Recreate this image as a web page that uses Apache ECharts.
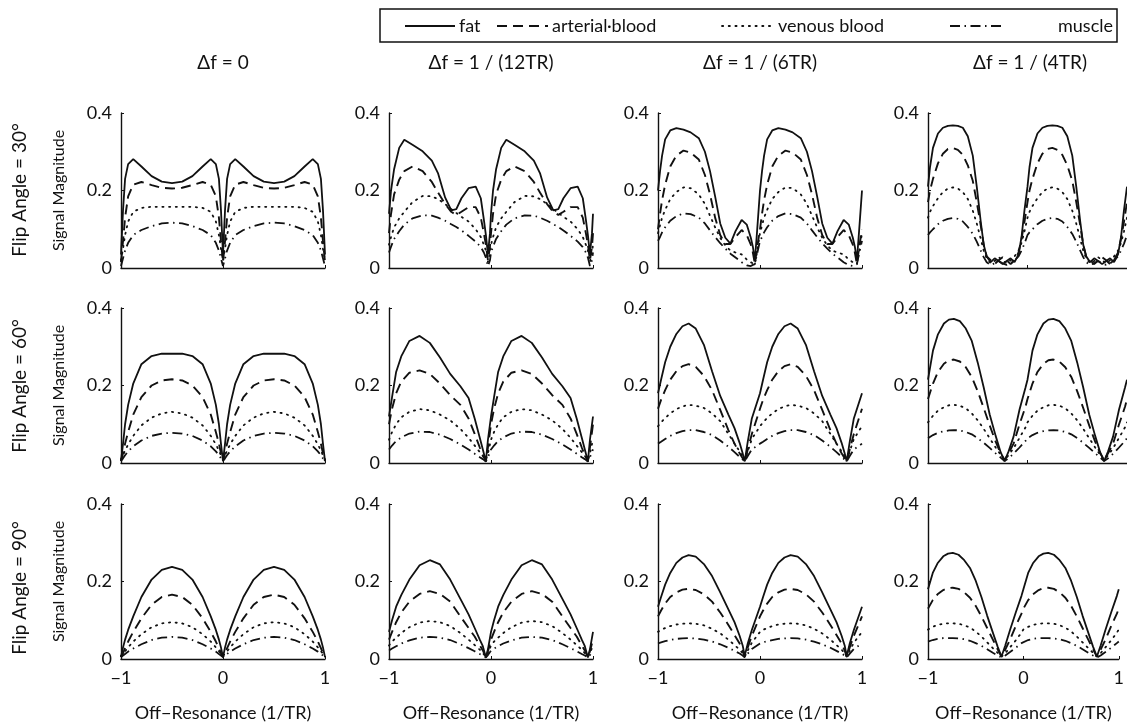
<!DOCTYPE html>
<html><head><meta charset="utf-8">
<script src="https://cdn.jsdelivr.net/npm/echarts/dist/echarts.min.js"></script>
<style>html,body{margin:0;padding:0;background:#fff}#c{width:1127px;height:724px}</style>
</head><body><div id="c"></div>
<script>
// ---------------- text ----------------
const seriesNames = ['fat', 'arterial·blood', 'venous blood', 'muscle'];
const colTitles = ['Δf = 0', 'Δf = 1 / (12TR)', 'Δf = 1 / (6TR)', 'Δf = 1 / (4TR)'];
const rowTitles = ['Flip Angle = 30°', 'Flip Angle = 60°', 'Flip Angle = 90°'];
const yName = 'Signal Magnitude';
const xName = 'Off\u2212Resonance (1/TR)';
const yTicks = [0, 0.2, 0.4];
const xTicks = [-1, 0, 1];

// ---------------- data: column 1 (Δf = 0) ----------------
const x_c1 = [-1,-0.98,-0.96,-0.93,-0.88,-0.8,-0.7,-0.6,-0.5,-0.4,-0.3,-0.2,-0.12,-0.07,-0.04,-0.02,0,
  0.02,0.04,0.07,0.12,0.2,0.3,0.4,0.5,0.6,0.7,0.8,0.88,0.93,0.96,0.98,1];
// 30°
const fat_r1c1 = [0.035,0.15,0.23,0.268,0.281,0.262,0.237,0.223,0.219,0.223,0.237,0.262,0.281,0.268,0.23,0.15,0.035,
  0.15,0.23,0.268,0.281,0.262,0.237,0.223,0.219,0.223,0.237,0.262,0.281,0.268,0.23,0.15,0.035];
const art_r1c1 = [0.015,0.07,0.13,0.185,0.215,0.222,0.214,0.207,0.205,0.207,0.214,0.222,0.215,0.185,0.13,0.07,0.015,
  0.07,0.13,0.185,0.215,0.222,0.214,0.207,0.205,0.207,0.214,0.222,0.215,0.185,0.13,0.07,0.015];
const ven_r1c1 = [0.02,0.05,0.085,0.12,0.145,0.155,0.158,0.158,0.158,0.158,0.158,0.155,0.145,0.12,0.085,0.05,0.02,
  0.05,0.085,0.12,0.145,0.155,0.158,0.158,0.158,0.158,0.158,0.155,0.145,0.12,0.085,0.05,0.02];
const mus_r1c1 = [0.005,0.025,0.045,0.065,0.085,0.098,0.108,0.115,0.117,0.115,0.108,0.098,0.085,0.065,0.045,0.025,0.005,
  0.025,0.045,0.065,0.085,0.098,0.108,0.115,0.117,0.115,0.108,0.098,0.085,0.065,0.045,0.025,0.005];
// 60°
const fat_r2c1 = [0.005,0.05,0.1,0.15,0.205,0.255,0.276,0.282,0.282,0.282,0.276,0.255,0.205,0.15,0.1,0.05,0.005,
  0.05,0.1,0.15,0.205,0.255,0.276,0.282,0.282,0.282,0.276,0.255,0.205,0.15,0.1,0.05,0.005];
const art_r2c1 = [0.005,0.025,0.05,0.08,0.125,0.17,0.2,0.213,0.216,0.213,0.2,0.17,0.125,0.08,0.05,0.025,0.005,
  0.025,0.05,0.08,0.125,0.17,0.2,0.213,0.216,0.213,0.2,0.17,0.125,0.08,0.05,0.025,0.005];
const ven_r2c1 = [0.01,0.02,0.032,0.048,0.07,0.097,0.117,0.128,0.132,0.128,0.117,0.097,0.07,0.048,0.032,0.02,0.01,
  0.02,0.032,0.048,0.07,0.097,0.117,0.128,0.132,0.128,0.117,0.097,0.07,0.048,0.032,0.02,0.01];
const mus_r2c1 = [0.005,0.012,0.02,0.03,0.043,0.058,0.07,0.076,0.078,0.076,0.07,0.058,0.043,0.03,0.02,0.012,0.005,
  0.012,0.02,0.03,0.043,0.058,0.07,0.076,0.078,0.076,0.07,0.058,0.043,0.03,0.02,0.012,0.005];
// 90°
const fat_r3c1 = [0.005,0.03,0.05,0.075,0.11,0.16,0.205,0.23,0.238,0.23,0.205,0.16,0.11,0.075,0.05,0.03,0.005,
  0.03,0.05,0.075,0.11,0.16,0.205,0.23,0.238,0.23,0.205,0.16,0.11,0.075,0.05,0.03,0.005];
const art_r3c1 = [0.005,0.015,0.028,0.045,0.07,0.105,0.14,0.16,0.166,0.16,0.14,0.105,0.07,0.045,0.028,0.015,0.005,
  0.015,0.028,0.045,0.07,0.105,0.14,0.16,0.166,0.16,0.14,0.105,0.07,0.045,0.028,0.015,0.005];
const ven_r3c1 = [0.008,0.014,0.02,0.03,0.045,0.064,0.082,0.092,0.095,0.092,0.082,0.064,0.045,0.03,0.02,0.014,0.008,
  0.014,0.02,0.03,0.045,0.064,0.082,0.092,0.095,0.092,0.082,0.064,0.045,0.03,0.02,0.014,0.008];
const mus_r3c1 = [0.005,0.009,0.013,0.019,0.027,0.038,0.049,0.055,0.057,0.055,0.049,0.038,0.027,0.019,0.013,0.009,0.005,
  0.009,0.013,0.019,0.027,0.038,0.049,0.055,0.057,0.055,0.049,0.038,0.027,0.019,0.013,0.009,0.005];

// ---------------- data: column 2 (Δf = 1/(12TR)) ----------------
const x_r1c2 = [-1,-0.98,-0.95,-0.9,-0.85,-0.77,-0.67,-0.58,-0.52,-0.45,-0.39,-0.34,-0.29,-0.22,-0.15,-0.1,-0.07,-0.05,-0.03,-0.01,0,
  0.02,0.05,0.1,0.15,0.23,0.33,0.42,0.48,0.55,0.61,0.66,0.71,0.78,0.85,0.9,0.93,0.95,0.97,0.99,1];
const fat_r1c2 = [0.14,0.2,0.255,0.31,0.331,0.318,0.301,0.277,0.245,0.182,0.149,0.152,0.18,0.206,0.21,0.18,0.125,0.085,0.035,0.09,0.14,
  0.2,0.255,0.31,0.331,0.318,0.301,0.277,0.245,0.182,0.149,0.152,0.18,0.206,0.21,0.18,0.125,0.085,0.035,0.09,0.14];
const art_r1c2 = [0.09,0.14,0.19,0.228,0.25,0.262,0.25,0.222,0.195,0.165,0.145,0.137,0.145,0.157,0.157,0.13,0.09,0.06,0.02,0.055,0.09,
  0.14,0.19,0.228,0.25,0.262,0.25,0.222,0.195,0.165,0.145,0.137,0.145,0.157,0.157,0.13,0.09,0.06,0.02,0.055,0.09];
const ven_r1c2 = [0.06,0.08,0.105,0.128,0.145,0.17,0.186,0.185,0.178,0.165,0.152,0.142,0.132,0.12,0.1,0.08,0.06,0.045,0.015,0.04,0.06,
  0.08,0.105,0.128,0.145,0.17,0.186,0.185,0.178,0.165,0.152,0.142,0.132,0.12,0.1,0.08,0.06,0.045,0.015,0.04,0.06];
const mus_r1c2 = [0.04,0.055,0.075,0.095,0.112,0.128,0.136,0.135,0.13,0.122,0.113,0.106,0.097,0.083,0.068,0.054,0.04,0.027,0.005,0.02,0.04,
  0.055,0.075,0.095,0.112,0.128,0.136,0.135,0.13,0.122,0.113,0.106,0.097,0.083,0.068,0.054,0.04,0.027,0.005,0.02,0.04];
const x_c2 = [-1,-0.97,-0.93,-0.88,-0.8,-0.7,-0.6,-0.5,-0.4,-0.3,-0.22,-0.16,-0.11,-0.08,-0.05,-0.03,0,
  0.03,0.07,0.12,0.2,0.3,0.4,0.5,0.6,0.7,0.78,0.84,0.89,0.92,0.95,0.97,1];
const fat_r2c2 = [0.12,0.17,0.235,0.275,0.315,0.328,0.31,0.272,0.23,0.198,0.168,0.115,0.065,0.035,0.004,0.06,0.12,
  0.17,0.235,0.275,0.315,0.328,0.31,0.272,0.23,0.198,0.168,0.115,0.065,0.035,0.004,0.06,0.12];
const art_r2c2 = [0.1,0.14,0.18,0.21,0.233,0.239,0.23,0.205,0.175,0.15,0.115,0.075,0.04,0.02,0.004,0.04,0.1,
  0.14,0.18,0.21,0.233,0.239,0.23,0.205,0.175,0.15,0.115,0.075,0.04,0.02,0.004,0.04,0.1];
const ven_r2c2 = [0.06,0.08,0.1,0.118,0.132,0.139,0.136,0.125,0.11,0.088,0.065,0.045,0.028,0.018,0.008,0.025,0.06,
  0.08,0.1,0.118,0.132,0.139,0.136,0.125,0.11,0.088,0.065,0.045,0.028,0.018,0.008,0.025,0.06];
const mus_r2c2 = [0.035,0.045,0.057,0.066,0.076,0.081,0.08,0.073,0.062,0.048,0.035,0.024,0.015,0.01,0.004,0.015,0.035,
  0.045,0.057,0.066,0.076,0.081,0.08,0.073,0.062,0.048,0.035,0.024,0.015,0.01,0.004,0.015,0.035];
const fat_r3c2 = [0.07,0.1,0.135,0.165,0.205,0.242,0.255,0.244,0.205,0.155,0.115,0.08,0.05,0.033,0.004,0.025,0.07,
  0.1,0.135,0.165,0.205,0.242,0.255,0.244,0.205,0.155,0.115,0.08,0.05,0.033,0.004,0.025,0.07];
const art_r3c2 = [0.05,0.07,0.095,0.12,0.148,0.168,0.175,0.168,0.148,0.11,0.08,0.058,0.035,0.022,0.004,0.02,0.05,
  0.07,0.095,0.12,0.148,0.168,0.175,0.168,0.148,0.11,0.08,0.058,0.035,0.022,0.004,0.02,0.05];
const ven_r3c2 = [0.035,0.045,0.055,0.067,0.082,0.094,0.098,0.095,0.085,0.067,0.05,0.036,0.024,0.015,0.006,0.015,0.035,
  0.045,0.055,0.067,0.082,0.094,0.098,0.095,0.085,0.067,0.05,0.036,0.024,0.015,0.006,0.015,0.035];
const mus_r3c2 = [0.022,0.027,0.033,0.04,0.048,0.055,0.057,0.055,0.049,0.038,0.028,0.02,0.013,0.009,0.004,0.01,0.022,
  0.027,0.033,0.04,0.048,0.055,0.057,0.055,0.049,0.038,0.028,0.02,0.013,0.009,0.004,0.01,0.022];

// ---------------- data: column 3 (Δf = 1/(6TR)) ----------------
const x_r1c3 = [-1,-0.98,-0.96,-0.93,-0.88,-0.82,-0.75,-0.68,-0.6,-0.54,-0.49,-0.44,-0.39,-0.34,-0.29,-0.24,-0.18,-0.13,-0.09,-0.07,-0.05,-0.03,0,
  0.02,0.04,0.07,0.12,0.18,0.25,0.32,0.4,0.46,0.51,0.56,0.61,0.66,0.71,0.76,0.82,0.87,0.91,0.93,0.95,0.97,1];
const fat_r1c3 = [0.2,0.25,0.29,0.332,0.355,0.361,0.357,0.35,0.335,0.3,0.25,0.185,0.115,0.078,0.063,0.095,0.124,0.112,0.078,0.055,0.02,0.09,0.2,
  0.25,0.29,0.332,0.355,0.361,0.357,0.35,0.335,0.3,0.25,0.185,0.115,0.078,0.063,0.095,0.124,0.112,0.078,0.055,0.02,0.09,0.2];
const art_r1c3 = [0.1,0.14,0.175,0.215,0.262,0.29,0.303,0.298,0.28,0.24,0.19,0.13,0.085,0.062,0.062,0.08,0.098,0.085,0.06,0.04,0.01,0.05,0.1,
  0.14,0.175,0.215,0.262,0.29,0.303,0.298,0.28,0.24,0.19,0.13,0.085,0.062,0.062,0.08,0.098,0.085,0.06,0.04,0.01,0.05,0.1];
const ven_r1c3 = [0.09,0.11,0.13,0.15,0.178,0.196,0.208,0.206,0.19,0.165,0.135,0.105,0.078,0.058,0.045,0.04,0.035,0.022,0.015,0.012,0.01,0.04,0.09,
  0.11,0.13,0.15,0.178,0.196,0.208,0.206,0.19,0.165,0.135,0.105,0.078,0.058,0.045,0.04,0.035,0.022,0.015,0.012,0.01,0.04,0.09];
const mus_r1c3 = [0.07,0.08,0.092,0.105,0.122,0.134,0.141,0.139,0.13,0.115,0.097,0.08,0.064,0.05,0.037,0.027,0.015,0.007,0.005,0.008,0.01,0.035,0.07,
  0.08,0.092,0.105,0.122,0.134,0.141,0.139,0.13,0.115,0.097,0.08,0.064,0.05,0.037,0.027,0.015,0.007,0.005,0.008,0.01,0.035,0.07];
const x_c3 = [-1,-0.97,-0.93,-0.88,-0.82,-0.76,-0.7,-0.63,-0.55,-0.47,-0.39,-0.31,-0.25,-0.2,-0.17,-0.15,-0.12,-0.08,0,
  0.03,0.07,0.12,0.18,0.24,0.3,0.37,0.45,0.53,0.61,0.69,0.75,0.8,0.83,0.85,0.88,0.92,1];
const fat_r2c3 = [0.18,0.215,0.26,0.3,0.333,0.353,0.36,0.347,0.305,0.237,0.173,0.125,0.09,0.052,0.025,0.004,0.055,0.115,0.18,
  0.215,0.26,0.3,0.333,0.353,0.36,0.347,0.305,0.237,0.173,0.125,0.09,0.052,0.025,0.004,0.055,0.115,0.18];
const art_r2c3 = [0.14,0.163,0.188,0.215,0.237,0.25,0.255,0.248,0.225,0.188,0.137,0.085,0.05,0.025,0.012,0.004,0.035,0.075,0.14,
  0.163,0.188,0.215,0.237,0.25,0.255,0.248,0.225,0.188,0.137,0.085,0.05,0.025,0.012,0.004,0.035,0.075,0.14];
const ven_r2c3 = [0.095,0.105,0.116,0.128,0.139,0.146,0.15,0.148,0.142,0.128,0.108,0.075,0.05,0.03,0.016,0.006,0.03,0.062,0.095,
  0.105,0.116,0.128,0.139,0.146,0.15,0.148,0.142,0.128,0.108,0.075,0.05,0.03,0.016,0.006,0.03,0.062,0.095];
const mus_r2c3 = [0.05,0.055,0.062,0.07,0.077,0.082,0.085,0.085,0.08,0.072,0.058,0.042,0.028,0.016,0.009,0.004,0.018,0.035,0.05,
  0.055,0.062,0.07,0.077,0.082,0.085,0.085,0.08,0.072,0.058,0.042,0.028,0.016,0.009,0.004,0.018,0.035,0.05];
const fat_r3c3 = [0.135,0.16,0.192,0.222,0.248,0.262,0.268,0.264,0.245,0.214,0.172,0.128,0.095,0.06,0.035,0.008,0.04,0.075,0.135,
  0.16,0.192,0.222,0.248,0.262,0.268,0.264,0.245,0.214,0.172,0.128,0.095,0.06,0.035,0.008,0.04,0.075,0.135];
const art_r3c3 = [0.11,0.125,0.143,0.16,0.172,0.179,0.181,0.178,0.167,0.148,0.12,0.088,0.062,0.04,0.022,0.006,0.03,0.06,0.11,
  0.125,0.143,0.16,0.172,0.179,0.181,0.178,0.167,0.148,0.12,0.088,0.062,0.04,0.022,0.006,0.03,0.06,0.11];
const ven_r3c3 = [0.07,0.075,0.08,0.085,0.089,0.091,0.092,0.091,0.087,0.078,0.066,0.05,0.036,0.024,0.015,0.006,0.022,0.042,0.07,
  0.075,0.08,0.085,0.089,0.091,0.092,0.091,0.087,0.078,0.066,0.05,0.036,0.024,0.015,0.006,0.022,0.042,0.07];
const mus_r3c3 = [0.04,0.043,0.046,0.049,0.052,0.053,0.054,0.053,0.05,0.045,0.038,0.029,0.021,0.014,0.009,0.004,0.014,0.026,0.04,
  0.043,0.046,0.049,0.052,0.053,0.054,0.053,0.05,0.045,0.038,0.029,0.021,0.014,0.009,0.004,0.014,0.026,0.04];

// ---------------- data: column 4 (Δf = 1/(4TR)) ----------------
const x_r1c4 = [-1,-0.98,-0.95,-0.9,-0.85,-0.8,-0.75,-0.7,-0.65,-0.6,-0.55,-0.51,-0.47,-0.44,-0.41,-0.37,-0.33,-0.29,-0.25,-0.21,-0.17,-0.13,-0.09,-0.06,-0.03,0,
  0.02,0.05,0.1,0.15,0.2,0.25,0.3,0.35,0.4,0.45,0.49,0.53,0.56,0.59,0.63,0.67,0.71,0.75,0.79,0.83,0.87,0.91,0.94,0.97,1];
const fat_r1c4 = [0.21,0.26,0.31,0.347,0.362,0.367,0.368,0.367,0.362,0.34,0.29,0.21,0.12,0.06,0.03,0.015,0.025,0.018,0.01,0.018,0.025,0.015,0.035,0.08,0.15,0.21,
  0.26,0.31,0.347,0.362,0.367,0.368,0.367,0.362,0.34,0.29,0.21,0.12,0.06,0.03,0.015,0.025,0.018,0.01,0.018,0.025,0.015,0.035,0.08,0.15,0.21];
const art_r1c4 = [0.17,0.2,0.23,0.27,0.295,0.307,0.31,0.305,0.292,0.265,0.225,0.17,0.11,0.06,0.03,0.02,0.01,0.02,0.028,0.02,0.01,0.02,0.04,0.075,0.12,0.17,
  0.2,0.23,0.27,0.295,0.307,0.31,0.305,0.292,0.265,0.225,0.17,0.11,0.06,0.03,0.02,0.01,0.02,0.028,0.02,0.01,0.02,0.04,0.075,0.12,0.17];
const ven_r1c4 = [0.13,0.145,0.16,0.18,0.196,0.205,0.208,0.205,0.196,0.178,0.148,0.115,0.075,0.045,0.025,0.012,0.018,0.028,0.02,0.012,0.02,0.03,0.045,0.065,0.095,0.13,
  0.145,0.16,0.18,0.196,0.205,0.208,0.205,0.196,0.178,0.148,0.115,0.075,0.045,0.025,0.012,0.018,0.028,0.02,0.012,0.02,0.03,0.045,0.065,0.095,0.13];
const mus_r1c4 = [0.085,0.092,0.1,0.113,0.122,0.127,0.129,0.127,0.12,0.106,0.088,0.068,0.045,0.028,0.015,0.008,0.012,0.018,0.012,0.008,0.012,0.02,0.03,0.045,0.063,0.085,
  0.092,0.1,0.113,0.122,0.127,0.129,0.127,0.12,0.106,0.088,0.068,0.045,0.028,0.015,0.008,0.012,0.018,0.012,0.008,0.012,0.02,0.03,0.045,0.063,0.085];
const x_c4 = [-1,-0.95,-0.9,-0.84,-0.79,-0.74,-0.68,-0.62,-0.56,-0.5,-0.44,-0.38,-0.32,-0.27,-0.23,-0.19,-0.14,-0.08,-0.02,0,
  0.05,0.1,0.16,0.21,0.26,0.32,0.38,0.44,0.5,0.56,0.62,0.68,0.73,0.77,0.81,0.86,0.92,0.98,1];
const fat_r2c4 = [0.215,0.29,0.332,0.36,0.37,0.372,0.366,0.347,0.315,0.259,0.195,0.125,0.07,0.028,0.005,0.03,0.068,0.138,0.195,0.215,
  0.29,0.332,0.36,0.37,0.372,0.366,0.347,0.315,0.259,0.195,0.125,0.07,0.028,0.005,0.03,0.068,0.138,0.195,0.215];
const art_r2c4 = [0.165,0.205,0.235,0.256,0.265,0.267,0.262,0.247,0.222,0.185,0.142,0.097,0.055,0.025,0.008,0.025,0.05,0.1,0.145,0.165,
  0.205,0.235,0.256,0.265,0.267,0.262,0.247,0.222,0.185,0.142,0.097,0.055,0.025,0.008,0.025,0.05,0.1,0.145,0.165];
const ven_r2c4 = [0.105,0.122,0.135,0.144,0.149,0.15,0.148,0.141,0.128,0.11,0.088,0.064,0.04,0.021,0.008,0.02,0.038,0.065,0.092,0.105,
  0.122,0.135,0.144,0.149,0.15,0.148,0.141,0.128,0.11,0.088,0.064,0.04,0.021,0.008,0.02,0.038,0.065,0.092,0.105];
const mus_r2c4 = [0.064,0.072,0.078,0.082,0.084,0.085,0.084,0.08,0.074,0.064,0.052,0.039,0.025,0.014,0.005,0.012,0.024,0.04,0.057,0.064,
  0.072,0.078,0.082,0.084,0.085,0.084,0.08,0.074,0.064,0.052,0.039,0.025,0.014,0.005,0.012,0.024,0.04,0.057,0.064];
const fat_r3c4 = [0.18,0.222,0.247,0.265,0.272,0.274,0.269,0.255,0.235,0.202,0.16,0.112,0.068,0.032,0.006,0.035,0.075,0.12,0.163,0.18,
  0.222,0.247,0.265,0.272,0.274,0.269,0.255,0.235,0.202,0.16,0.112,0.068,0.032,0.006,0.035,0.075,0.12,0.163,0.18];
const art_r3c4 = [0.13,0.152,0.167,0.178,0.183,0.184,0.181,0.172,0.158,0.137,0.11,0.08,0.05,0.025,0.006,0.024,0.05,0.085,0.117,0.13,
  0.152,0.167,0.178,0.183,0.184,0.181,0.172,0.158,0.137,0.11,0.08,0.05,0.025,0.006,0.024,0.05,0.085,0.117,0.13];
const ven_r3c4 = [0.076,0.083,0.088,0.091,0.092,0.092,0.091,0.087,0.081,0.071,0.058,0.043,0.028,0.016,0.006,0.015,0.03,0.048,0.068,0.076,
  0.083,0.088,0.091,0.092,0.092,0.091,0.087,0.081,0.071,0.058,0.043,0.028,0.016,0.006,0.015,0.03,0.048,0.068,0.076];
const mus_r3c4 = [0.045,0.049,0.052,0.054,0.054,0.054,0.053,0.051,0.047,0.041,0.034,0.025,0.016,0.009,0.004,0.009,0.018,0.029,0.041,0.045,
  0.049,0.052,0.054,0.054,0.054,0.053,0.051,0.047,0.041,0.034,0.025,0.016,0.009,0.004,0.009,0.018,0.029,0.041,0.045];

// ---------------- panels (row-major) ----------------
const panels = [
  {xs: x_c1,   ys: [fat_r1c1, art_r1c1, ven_r1c1, mus_r1c1]},
  {xs: x_r1c2, ys: [fat_r1c2, art_r1c2, ven_r1c2, mus_r1c2]},
  {xs: x_r1c3, ys: [fat_r1c3, art_r1c3, ven_r1c3, mus_r1c3]},
  {xs: x_r1c4, ys: [fat_r1c4, art_r1c4, ven_r1c4, mus_r1c4]},
  {xs: x_c1,   ys: [fat_r2c1, art_r2c1, ven_r2c1, mus_r2c1]},
  {xs: x_c2,   ys: [fat_r2c2, art_r2c2, ven_r2c2, mus_r2c2]},
  {xs: x_c3,   ys: [fat_r2c3, art_r2c3, ven_r2c3, mus_r2c3]},
  {xs: x_c4,   ys: [fat_r2c4, art_r2c4, ven_r2c4, mus_r2c4]},
  {xs: x_c1,   ys: [fat_r3c1, art_r3c1, ven_r3c1, mus_r3c1]},
  {xs: x_c2,   ys: [fat_r3c2, art_r3c2, ven_r3c2, mus_r3c2]},
  {xs: x_c3,   ys: [fat_r3c3, art_r3c3, ven_r3c3, mus_r3c3]},
  {xs: x_c4,   ys: [fat_r3c4, art_r3c4, ven_r3c4, mus_r3c4]}
];

// ---------------- layout / style ----------------
const FONT = 'Lato';
const INK = '#111';
const colLeft = [121, 389, 658, 928];
const rowTop = [113, 308, 504];
const plotW = 204, plotH = 155;
const dashes = ['solid', [10, 6], [1.2, 5.5], [10, 4.5, 1.5, 4.5]];
const widths = [1.8, 1.9, 1.8, 1.8];
const minus = v => (v < 0 ? '\u2212' + Math.abs(v) : String(v));

const grid = [], xAxis = [], yAxis = [], series = [];
for (let r = 0; r < 3; r++) {
  for (let c = 0; c < 4; c++) {
    const i = r * 4 + c;
    grid.push({left: colLeft[c], top: rowTop[r], width: plotW, height: plotH, containLabel: false});
    const bottomRow = r === 2;
    xAxis.push({
      type: 'value', gridIndex: i, min: -1, max: 1, interval: 1,
      axisLine: {show: true, onZero: false, lineStyle: {color: INK, width: 1.4}},
      axisTick: {show: true, inside: true, length: 3, customValues: xTicks, lineStyle: {color: INK}},
      axisLabel: {show: bottomRow, customValues: xTicks, formatter: minus, color: INK,
        fontFamily: FONT, fontSize: 18, margin: 10},
      splitLine: {show: false},
      name: bottomRow ? xName : '', nameLocation: 'middle', nameGap: 45,
      nameTextStyle: {color: INK, fontFamily: FONT, fontSize: 18}
    });
    yAxis.push({
      type: 'value', gridIndex: i, min: 0, max: 0.4, interval: 0.2,
      axisLine: {show: true, onZero: false, lineStyle: {color: INK, width: 1.4}},
      axisTick: {show: true, inside: true, length: 3, customValues: yTicks, lineStyle: {color: INK}},
      axisLabel: {show: true, customValues: yTicks, formatter: v => (v === 0 ? '0' : v.toFixed(1)),
        color: INK, fontFamily: FONT, fontSize: 18, margin: 9},
      splitLine: {show: false},
      name: c === 0 ? yName : '', nameLocation: 'middle', nameRotate: 90, nameGap: 54,
      nameTextStyle: {color: INK, fontFamily: FONT, fontSize: 16}
    });
    panels[i].ys.forEach((ys, k) => {
      series.push({
        type: 'line', name: seriesNames[k], xAxisIndex: i, yAxisIndex: i,
        data: panels[i].xs.map((x, j) => [x, ys[j]]),
        showSymbol: false, symbol: 'none', smooth: false, clip: true, silent: true,
        lineStyle: {color: INK, width: widths[k], type: dashes[k], cap: k === 2 ? 'round' : 'butt'},
        z: 3
      });
    });
  }
}

// ---------------- titles, row labels, legend box ----------------
const graphic = [];
colTitles.forEach((t, c) => graphic.push({
  type: 'text', x: colLeft[c] + plotW / 2, y: 63,
  style: {text: t, fill: INK, font: '19px ' + FONT, align: 'center', verticalAlign: 'middle',
    textAlign: 'center', textVerticalAlign: 'middle'}
}));
const rowCenters = [190, 386, 588];
rowTitles.forEach((t, r) => graphic.push({
  type: 'text', x: 20, y: rowCenters[r], rotation: Math.PI / 2,
  style: {text: t, fill: INK, font: '19px ' + FONT, align: 'center', verticalAlign: 'middle',
    textAlign: 'center', textVerticalAlign: 'middle'}
}));
graphic.push({type: 'rect', shape: {x: 380, y: 9, width: 737, height: 33},
  style: {fill: '#fff', stroke: INK, lineWidth: 1.5}});
const legLines = [[405, 455], [497, 548], [722, 772], [950, 1003]];
const legText = [459, 552, 778, 1058];
seriesNames.forEach((n, k) => {
  graphic.push({type: 'line', shape: {x1: legLines[k][0], y1: 26, x2: legLines[k][1], y2: 26},
    style: {stroke: INK, lineWidth: widths[k], lineDash: k === 0 ? null : dashes[k],
      lineCap: k === 2 ? 'round' : 'butt'}});
  graphic.push({type: 'text', x: legText[k], y: 26,
    style: {text: n, fill: INK, font: '18px ' + FONT, align: 'left', verticalAlign: 'middle',
      textAlign: 'left', textVerticalAlign: 'middle'}});
});

const chart = echarts.init(document.getElementById('c'), null, {renderer: 'canvas'});
chart.setOption({
  backgroundColor: '#fff',
  animation: false,
  grid, xAxis, yAxis, series, graphic
});
</script>
</body></html>
